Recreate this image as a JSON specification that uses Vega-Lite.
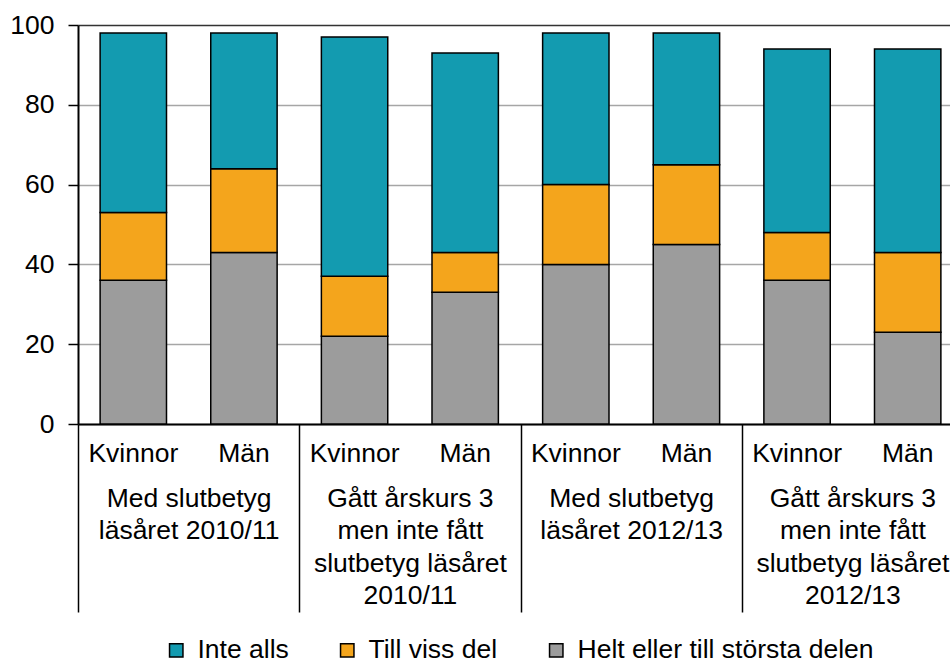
{
  "$schema": "https://vega.github.io/schema/vega-lite/v6.json",
  "width": 885,
  "height": 399,
  "autosize": {"type": "none"},
  "padding": {"left": 78, "top": 25, "right": -13, "bottom": 239},
  "config": {"font": "Liberation Sans", "view": {"stroke": null}},
  "data": {
    "values": [
      {"bar": "1-Kvinnor", "category": "Helt eller till största delen", "value": 36},
      {"bar": "1-Kvinnor", "category": "Till viss del", "value": 17},
      {"bar": "1-Kvinnor", "category": "Inte alls", "value": 45},
      {"bar": "1-Män", "category": "Helt eller till största delen", "value": 43},
      {"bar": "1-Män", "category": "Till viss del", "value": 21},
      {"bar": "1-Män", "category": "Inte alls", "value": 34},
      {"bar": "2-Kvinnor", "category": "Helt eller till största delen", "value": 22},
      {"bar": "2-Kvinnor", "category": "Till viss del", "value": 15},
      {"bar": "2-Kvinnor", "category": "Inte alls", "value": 60},
      {"bar": "2-Män", "category": "Helt eller till största delen", "value": 33},
      {"bar": "2-Män", "category": "Till viss del", "value": 10},
      {"bar": "2-Män", "category": "Inte alls", "value": 50},
      {"bar": "3-Kvinnor", "category": "Helt eller till största delen", "value": 40},
      {"bar": "3-Kvinnor", "category": "Till viss del", "value": 20},
      {"bar": "3-Kvinnor", "category": "Inte alls", "value": 38},
      {"bar": "3-Män", "category": "Helt eller till största delen", "value": 45},
      {"bar": "3-Män", "category": "Till viss del", "value": 20},
      {"bar": "3-Män", "category": "Inte alls", "value": 33},
      {"bar": "4-Kvinnor", "category": "Helt eller till största delen", "value": 36},
      {"bar": "4-Kvinnor", "category": "Till viss del", "value": 12},
      {"bar": "4-Kvinnor", "category": "Inte alls", "value": 46},
      {"bar": "4-Män", "category": "Helt eller till största delen", "value": 23},
      {"bar": "4-Män", "category": "Till viss del", "value": 20},
      {"bar": "4-Män", "category": "Inte alls", "value": 51}
    ]
  },
  "layer": [
    {
      "transform": [
        {"calculate": "indexof(['Helt eller till största delen', 'Till viss del', 'Inte alls'], datum.category)", "as": "stackOrder"}
      ],
      "mark": {"type": "bar", "stroke": "black", "strokeWidth": 1.5},
      "encoding": {
        "x": {
          "field": "bar", "type": "nominal", "sort": null,
          "scale": {"paddingInner": 0.4, "paddingOuter": 0.2},
          "axis": {
            "orient": "bottom", "title": null, "labelExpr": "split(datum.value, '-')[1]",
            "labelAngle": 0, "ticks": false, "domainColor": "black", "domainWidth": 2,
            "labelFontSize": 26.5, "labelColor": "black", "labelPadding": 16, "labelBaseline": "top"
          }
        },
        "y": {
          "field": "value", "type": "quantitative", "stack": "zero",
          "scale": {"domain": [0, 100], "nice": false},
          "axis": {
            "title": null, "values": [0, 20, 40, 60, 80, 100], "grid": true,
            "gridColor": {"condition": {"test": "datum.value == 100", "value": "#333333"}, "value": "#a6a6a6"},
            "gridWidth": 1.5, "domainColor": "black", "domainWidth": 2,
            "tickColor": "black", "tickSize": 10, "tickWidth": 1.5,
            "labelFontSize": 26.5, "labelColor": "black", "labelPadding": 14
          }
        },
        "order": {"field": "stackOrder", "type": "quantitative", "sort": "ascending"},
        "color": {
          "field": "category", "type": "nominal",
          "scale": {
            "domain": ["Inte alls", "Till viss del", "Helt eller till största delen"],
            "range": ["#139bb0", "#f4a51c", "#9c9c9c"]
          },
          "legend": {
            "title": null, "orient": "none", "direction": "horizontal",
            "legendX": 85, "legendY": 612,
            "symbolType": "square", "symbolSize": 180, "symbolStrokeColor": "black", "symbolStrokeWidth": 1.5,
            "labelFontSize": 26.5, "labelColor": "black", "columnPadding": 45, "labelOffset": 8, "labelLimit": 0
          }
        }
      }
    },
    {
      "mark": {"type": "text", "text": ""},
      "encoding": {
        "x": {
          "field": "bar", "type": "nominal", "sort": null,
          "axis": {
            "orient": "bottom", "title": null,
            "values": ["1-Kvinnor", "2-Kvinnor", "3-Kvinnor", "4-Kvinnor"],
            "labels": false, "domain": false, "ticks": true, "grid": false,
            "tickColor": "black", "tickWidth": 1.5, "tickSize": 188,
            "bandPosition": 0, "tickOffset": -22.1
          }
        }
      }
    },
    {
      "mark": {"type": "text", "text": ""},
      "encoding": {
        "x": {
          "field": "bar", "type": "nominal", "sort": null,
          "axis": {
            "orient": "bottom", "title": null,
            "values": ["1-Kvinnor", "2-Kvinnor", "3-Kvinnor", "4-Kvinnor"],
            "ticks": false, "domain": false, "grid": false,
            "labelExpr": "datum.value == '1-Kvinnor' ? ['Med slutbetyg', 'läsåret 2010/11'] : datum.value == '2-Kvinnor' ? ['Gått årskurs 3', 'men inte fått', 'slutbetyg läsåret', '2010/11'] : datum.value == '3-Kvinnor' ? ['Med slutbetyg', 'läsåret 2012/13'] : ['Gått årskurs 3', 'men inte fått', 'slutbetyg läsåret', '2012/13']",
            "labelAngle": 0, "labelFontSize": 26.5, "labelColor": "black", "labelLineHeight": 32.5,
            "labelPadding": 61, "labelBaseline": "top", "labelAlign": "center",
            "bandPosition": 0.5, "tickOffset": 55.3, "labelLimit": 0, "labelOverlap": false, "labelBound": false, "labelFlush": false
          }
        }
      }
    }
  ],
  "resolve": {"axis": {"x": "independent"}}
}
